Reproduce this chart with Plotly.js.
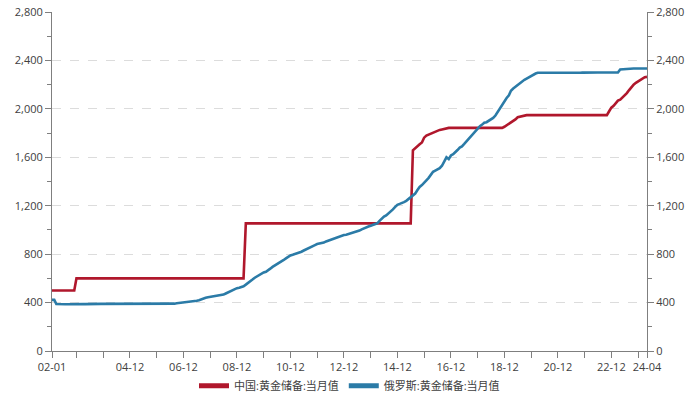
<!DOCTYPE html>
<html>
<head>
<meta charset="utf-8">
<script src="https://cdn.plot.ly/plotly-3.0.1.min.js"></script>
<style>
html,body{margin:0;padding:0;background:#fff;}
#chart{width:688px;height:399px;}
</style>
</head>
<body>
<div id="chart"></div>
<script>
// ---- data (tonnes, monthly, 2002-01 .. 2024-04) ----
var startYear = 2002;
var seriesNames = ['中国:黄金储备:当月值', '俄罗斯:黄金储备:当月值'];

var chinaGold = [
  // 2002
  500,500,500,500,500,500,500,500,500,500,500,600,
  // 2003
  600,600,600,600,600,600,600,600,600,600,600,600,
  // 2004
  600,600,600,600,600,600,600,600,600,600,600,600,
  // 2005
  600,600,600,600,600,600,600,600,600,600,600,600,
  // 2006
  600,600,600,600,600,600,600,600,600,600,600,600,
  // 2007
  600,600,600,600,600,600,600,600,600,600,600,600,
  // 2008
  600,600,600,600,600,600,600,600,600,600,600,600,
  // 2009
  600,600,600,1054,1054,1054,1054,1054,1054,1054,1054,1054,
  // 2010
  1054,1054,1054,1054,1054,1054,1054,1054,1054,1054,1054,1054,
  // 2011
  1054,1054,1054,1054,1054,1054,1054,1054,1054,1054,1054,1054,
  // 2012
  1054,1054,1054,1054,1054,1054,1054,1054,1054,1054,1054,1054,
  // 2013
  1054,1054,1054,1054,1054,1054,1054,1054,1054,1054,1054,1054,
  // 2014
  1054,1054,1054,1054,1054,1054,1054,1054,1054,1054,1054,1054,
  // 2015
  1054,1054,1054,1054,1054,1054,1658,1677,1693,1708,1722,1762,
  // 2016
  1780,1788,1797,1805,1815,1823,1826,1830,1836,1843,1843,1843,
  // 2017
  1843,1843,1843,1843,1843,1843,1843,1843,1843,1843,1843,1843,
  // 2018
  1843,1843,1843,1843,1843,1843,1843,1843,1843,1843,1843,1852,
  // 2019
  1864,1874,1885,1897,1913,1931,1936,1942,1948,1948,1948,1948,
  // 2020
  1948,1948,1948,1948,1948,1948,1948,1948,1948,1948,1948,1948,
  // 2021
  1948,1948,1948,1948,1948,1948,1948,1948,1948,1948,1948,1948,
  // 2022
  1948,1948,1948,1948,1948,1948,1948,1948,1948,1948,1980,2010,
  // 2023
  2025,2050,2068,2076,2092,2110,2130,2155,2180,2200,2215,2228,
  // 2024
  2242,2254,2261,2264
];

var russiaGold = [
  // 2002
  422,422,388,386,386,386,386,386,387,387,387,387,
  // 2003
  387,387,387,387,388,388,388,388,388,388,389,389,
  // 2004
  389,389,389,389,388,388,388,388,388,387,387,387,
  // 2005
  387,387,386,386,387,391,388,386,386,386,386,386,
  // 2006
  386,386,386,386,386,386,388,391,394,396,398,399,
  // 2007
  400,402,404,406,410,415,420,428,435,440,444,447,
  // 2008
  452,455,458,460,462,466,475,485,495,505,512,519,
  // 2009
  523,528,535,548,560,575,590,605,618,628,638,649,
  // 2010
  655,665,680,695,705,715,728,740,752,765,778,789,
  // 2011
  795,800,805,812,820,830,840,850,858,866,875,883,
  // 2012
  885,888,895,905,912,920,925,932,938,945,952,958,
  // 2013
  960,965,970,975,980,988,995,1005,1015,1020,1028,1035,
  // 2014
  1040,1048,1055,1075,1095,1110,1120,1135,1150,1170,1190,1208,
  // 2015
  1215,1220,1230,1240,1255,1275,1290,1300,1330,1355,1370,1393,
  // 2016
  1410,1430,1460,1480,1490,1500,1510,1530,1560,1600,1585,1615,
  // 2017
  1625,1640,1660,1680,1690,1710,1730,1750,1770,1790,1810,1839,
  // 2018
  1857,1870,1885,1890,1900,1915,1925,1945,1975,2000,2030,2066,
  // 2019
  2090,2112,2150,2168,2183,2195,2210,2225,2240,2250,2262,2271,
  // 2020
  2285,2292,2298,2299,2299,2299,2299,2298,2298,2298,2298,2298,
  // 2021
  2297,2296,2295,2293,2292,2292,2294,2296,2298,2298,2299,2300,
  // 2022
  2300,2300,2300,2300,2300,2300,2300,2300,2300,2300,2300,2300,
  // 2023
  2300,2300,2300,2326,2328,2329,2330,2331,2332,2333,2333,2333,
  // 2024
  2333,2334,2334,2333
];

var tickDates = ['2002-01','2002-12','2003-12','2004-12','2005-12','2006-12','2007-12','2008-12',
  '2009-12','2010-12','2011-12','2012-12','2013-12','2014-12','2015-12','2016-12','2017-12',
  '2018-12','2019-12','2020-12','2021-12','2022-12','2023-12','2024-04'];
var tickText = ['02-01','','','04-12','','06-12','','08-12','','10-12','','12-12','','14-12','',
  '16-12','','18-12','','20-12','','22-12','','24-04'];

var yTickVals = [0,400,800,1200,1600,2000,2400,2800];

// ---- build month axis ----
var months = [];
for (var i = 0; i < chinaGold.length; i++) {
  var y = startYear + Math.floor(i / 12);
  var m = (i % 12) + 1;
  months.push(y + '-' + (m < 10 ? '0' + m : m) + '-01');
}
var tickDateVals = tickDates.map(function(d){ return d + '-01'; });

var red = '#B0172C';
var blue = '#2B7BA7';
var fontFam = '"Open Sans", "Noto Sans CJK SC", sans-serif';

var traces = [
  {x: months, y: chinaGold, type: 'scatter', mode: 'lines', name: seriesNames[0],
   line: {color: red, width: 2.6}, showlegend: false, yaxis: 'y', hoverinfo: 'skip'},
  {x: months, y: russiaGold, type: 'scatter', mode: 'lines', name: seriesNames[1],
   line: {color: blue, width: 2.6}, showlegend: false, yaxis: 'y2', hoverinfo: 'skip'},
  {x: [null], y: [null], type: 'scatter', mode: 'lines', name: seriesNames[0],
   line: {color: red, width: 5}, showlegend: true, yaxis: 'y'},
  {x: [null], y: [null], type: 'scatter', mode: 'lines', name: seriesNames[1],
   line: {color: blue, width: 5}, showlegend: true, yaxis: 'y'}
];

var axisCommon = {
  range: [0, 2800], tickmode: 'array', tickvals: yTickVals,
  tickformat: ',d', ticks: 'outside', ticklen: 6, tickcolor: '#7f7f7f', tickwidth: 1,
  showline: true, linecolor: '#7f7f7f', linewidth: 1,
  tickfont: {family: fontFam, size: 11, color: '#404040'},
  minor: {dtick: 200, tick0: 0, ticks: 'outside', ticklen: 4, tickcolor: '#7f7f7f', showgrid: false},
  zeroline: false, fixedrange: true, automargin: false
};

var layout = {
  width: 688, height: 399,
  margin: {l: 52, r: 41, t: 12, b: 48},
  paper_bgcolor: '#ffffff', plot_bgcolor: '#ffffff',
  font: {family: fontFam, size: 11, color: '#404040'},
  xaxis: {
    type: 'date', range: ['2002-01-01', '2024-04-01'],
    tickmode: 'array', tickvals: tickDateVals, ticktext: tickText,
    ticks: 'outside', ticklen: 6, tickcolor: '#7f7f7f', tickwidth: 1,
    showline: true, linecolor: '#7f7f7f', linewidth: 1, showgrid: false, zeroline: false,
    tickfont: {family: fontFam, size: 11, color: '#404040'}, tickangle: 0, fixedrange: true,
    automargin: false
  },
  yaxis: Object.assign({}, axisCommon, {
    side: 'left', showgrid: true, gridcolor: '#dcdcdc', griddash: 'dash', gridwidth: 1
  }),
  yaxis2: Object.assign({}, axisCommon, {
    side: 'right', overlaying: 'y', showgrid: false
  }),
  legend: {
    orientation: 'h', x: 0.5, xanchor: 'center', xref: 'paper',
    yref: 'container', y: 0.033, yanchor: 'middle',
    font: {family: fontFam, size: 11, color: '#404040'},
    itemwidth: 30, tracegroupgap: 0, bgcolor: 'rgba(0,0,0,0)'
  },
  showlegend: true
};

Plotly.newPlot('chart', traces, layout, {displayModeBar: false, staticPlot: true});
</script>
</body>
</html>
